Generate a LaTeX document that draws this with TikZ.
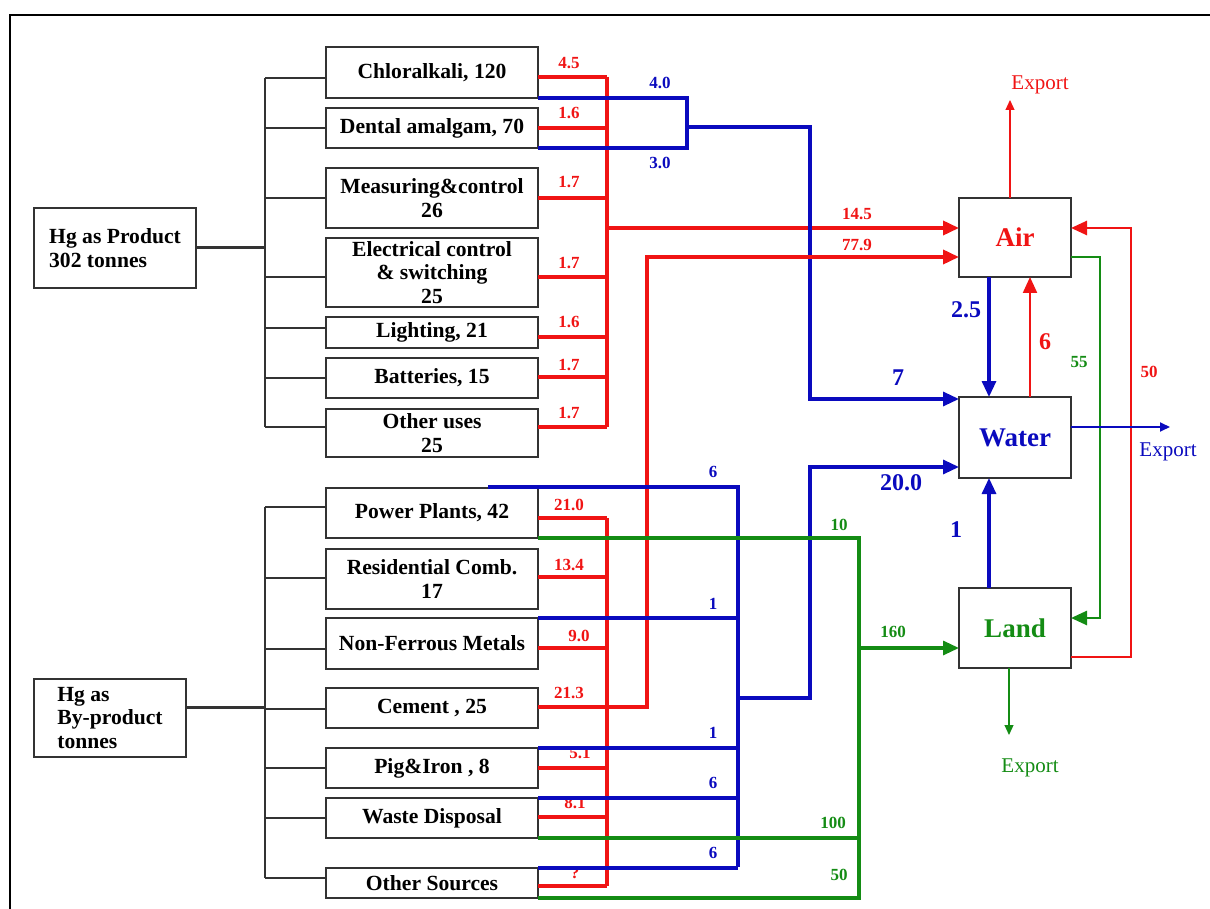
\documentclass[tikz,border=0pt]{standalone}
\usepackage{fontspec}
\setmainfont{Liberation Serif}
\usetikzlibrary{arrows.meta}

\definecolor{hgred}{RGB}{240,20,20}
\definecolor{hgblue}{RGB}{10,10,190}
\definecolor{hggreen}{RGB}{20,140,20}

\begin{document}
\begin{tikzpicture}[x=0.5pt,y=-0.5pt,
  box/.style={draw=black!80,line width=0.9pt,inner sep=0pt,outer sep=0pt,align=center,
    font=\bfseries\fontsize{10.8}{11.8}\selectfont},
  prod/.style={box,minimum width=106pt},
  comp/.style={box,minimum width=56pt,minimum height=40pt,
    font=\bfseries\fontsize{13.5}{15}\selectfont},
  tree/.style={draw=black!80,line width=0.8pt},
  rflow/.style={draw=hgred,line width=1.8pt},
  bflow/.style={draw=hgblue,line width=1.6pt},
  gflow/.style={draw=hggreen,line width=1.6pt},
  flowtip/.style={-{Triangle[length=8pt,width=7pt]}},
  thintip/.style={-{Triangle[length=5pt,width=4.5pt]}},
  lbl/.style={font=\bfseries\fontsize{8.5}{9}\selectfont,inner sep=0pt},
  biglbl/.style={font=\bfseries\fontsize{12}{13}\selectfont,inner sep=0pt},
  exportlbl/.style={font=\fontsize{10.5}{11}\selectfont,inner sep=0pt}]
  \useasboundingbox (0,0) rectangle (1210,909);
  \draw[line width=1.4pt] (10,909) -- (10,15) -- (1210,15);

  % sources
  \node[box,align=left,minimum width=81pt,minimum height=40pt] (hgprod) at (115,248) {Hg as Product\\302 tonnes};
  \node[box,align=left,minimum width=76pt,minimum height=39pt] (hgby) at (110,718) {Hg as\\By-product\\tonnes};

  % product uses
  \node[prod,minimum height=25.5pt] (chlor) at (432,72.5) {Chloralkali, 120};
  \node[prod,minimum height=20pt] (dental) at (432,128) {Dental amalgam, 70};
  \node[prod,minimum height=30pt] (measur) at (432,198) {Measuring\&control\\26};
  \node[prod,minimum height=34.5pt] (elec) at (432,272.5) {Electrical control\\\& switching\\25};
  \node[prod,minimum height=15.5pt] (light) at (432,332.5) {Lighting, 21};
  \node[prod,minimum height=20pt] (batt) at (432,378) {Batteries, 15};
  \node[prod,minimum height=24pt] (othuse) at (432,433) {Other uses\\25};

  % by-product sources
  \node[prod,minimum height=25pt] (power) at (432,513) {Power Plants, 42};
  \node[prod,minimum height=30pt] (resid) at (432,579) {Residential Comb.\\17};
  \node[prod,minimum height=25.5pt] (nonfer) at (432,643.5) {Non-Ferrous Metals};
  \node[prod,minimum height=20pt] (cement) at (432,708) {Cement , 25};
  \node[prod,minimum height=20pt] (pig) at (432,768) {Pig\&Iron , 8};
  \node[prod,minimum height=20pt] (waste) at (432,818) {Waste Disposal};
  \node[prod,minimum height=15pt] (othsrc) at (432,883) {Other Sources};

  % compartments
  \node[comp,text=hgred,minimum height=39.5pt] (air) at (1015,237.5) {Air};
  \node[comp,text=hgblue,minimum height=40.5pt] (water) at (1015,437.5) {Water};
  \node[comp,text=hggreen] (land) at (1015,628) {Land};

  % trees
  \draw[tree,line width=1.5pt] (hgprod.east) -- (265,248);
  \draw[tree] (265,78) -- (265,427);
  \foreach \n/\y in {chlor/78,dental/128,measur/198,elec/277,light/328,batt/378,othuse/427}
    \draw[tree] (265,\y) -- (\n.west |- 0,\y);
  \draw[tree,line width=1.5pt] (hgby.east |- 0,707) -- (265,707);
  \draw[tree] (265,507) -- (265,878);
  \foreach \n/\y in {power/507,resid/578,nonfer/649,cement/709,pig/768,waste/818,othsrc/878}
    \draw[tree] (265,\y) -- (\n.west |- 0,\y);

  % air from products
  \foreach \n/\y in {chlor/77,dental/128,measur/198,elec/277,light/337,batt/377,othuse/427}
    \draw[rflow] (\n.east |- 0,\y) -- (607,\y);
  \draw[rflow] (607,77) -- (607,427);
  \draw[rflow,flowtip] (607,228) -- (air.west |- 0,228);
  \foreach \y/\v in {63/4.5,113/1.6,182/1.7,263/1.7,322/1.6,365/1.7,413/1.7}
    \node[lbl,text=hgred] (rp\y) at (569,\y) {\v};
  \node[lbl,text=hgred] (l145) at (857,214) {14.5};

  % water from products
  \draw[bflow] (chlor.south east) -| (687,127) |- (dental.south east);
  \draw[bflow,flowtip] (687,127) -- (810,127) -- (810,399) -- (water.west |- 0,399);
  \node[lbl,text=hgblue] (l40) at (660,83) {4.0};
  \node[lbl,text=hgblue] (l30) at (660,163) {3.0};
  \node[biglbl,text=hgblue] (l7) at (898,378) {7};

  % air from by-products
  \foreach \n/\y in {power/518,resid/577,nonfer/648,cement/707,pig/768,waste/817,othsrc/886}
    \draw[rflow] (\n.east |- 0,\y) -- (607,\y);
  \draw[rflow] (607,518) -- (607,886);
  \draw[rflow,flowtip] (607,707) -- (647,707) -- (647,257) -- (air.west |- 0,257);
  \foreach \x/\y/\v in {569/505/21.0,569/565/13.4,579/636/9.0,569/693/21.3,580/753/5.1,575/803/8.1,575/873/?}
    \node[lbl,text=hgred] (rb\y) at (\x,\y) {\v};
  \node[lbl,text=hgred] (l779) at (857,245) {77.9};

  % water from by-products
  \coordinate (bstart) at (488,487);
  \draw[bflow] (bstart) -- (738,487) -- (738,867);
  \foreach \n in {nonfer,pig,waste,othsrc}
    \draw[bflow] (\n.north east) -- (\n.north east -| 738,0);
  \draw[bflow,flowtip] (738,698) -- (810,698) -- (810,467) -- (water.west |- 0,467);
  \foreach \y/\v in {472/6,604/1,733/1,783/6,853/6}
    \node[lbl,text=hgblue] (bb\y) at (713,\y) {\v};
  \node[biglbl,text=hgblue] (l200) at (901,483) {20.0};

  % land from by-products
  \draw[gflow] (power.south east) -| (othsrc.south east -| 859,0) -- (othsrc.south east);
  \draw[gflow] (waste.south east) -- (waste.south east -| 859,0);
  \draw[gflow,flowtip] (859,648) -- (land.west |- 0,648);
  \node[lbl,text=hggreen] (l10) at (839,525) {10};
  \node[lbl,text=hggreen] (l100) at (833,823) {100};
  \node[lbl,text=hggreen] (l50b) at (839,875) {50};
  \node[lbl,text=hggreen] (l160) at (893,632) {160};

  % exchanges between compartments
  \draw[bflow,flowtip] (air.south -| 989,0) -- (water.north -| 989,0);
  \draw[rflow,line width=1.1pt,flowtip] (water.north -| 1030,0) -- (air.south -| 1030,0);
  \draw[gflow,line width=1.3pt,flowtip] (air.east |- 0,257) -- (1100,257) -- (1100,618) -- (land.east |- 0,618);
  \draw[rflow,line width=1.3pt,flowtip] (land.east |- 0,657) -- (1131,657) -- (1131,228) -- (air.east |- 0,228);
  \draw[bflow,flowtip] (land.north -| 989,0) -- (water.south -| 989,0);
  \node[biglbl,text=hgblue] (l25) at (966,310) {2.5};
  \node[biglbl,text=hgred] (l6) at (1045,342) {6};
  \node[lbl,text=hggreen] (l55) at (1079,362) {55};
  \node[lbl,text=hgred] (l50a) at (1149,372) {50};
  \node[biglbl,text=hgblue] (l1) at (956,530) {1};

  % exports
  \draw[hgred,line width=0.6pt,thintip] (air.north -| 1010,0) -- (1010,100);
  \draw[hgblue,line width=0.9pt,thintip] (water.east |- 0,427) -- (1170,427);
  \draw[hggreen,line width=0.6pt,thintip] (land.south -| 1009,0) -- (1009,735);
  \node[exportlbl,text=hgred] (expair) at (1040,85) {Export};
  \node[exportlbl,text=hgblue] (expwater) at (1168,452) {Export};
  \node[exportlbl,text=hggreen] (expland) at (1030,768) {Export};
\end{tikzpicture}
\end{document}
